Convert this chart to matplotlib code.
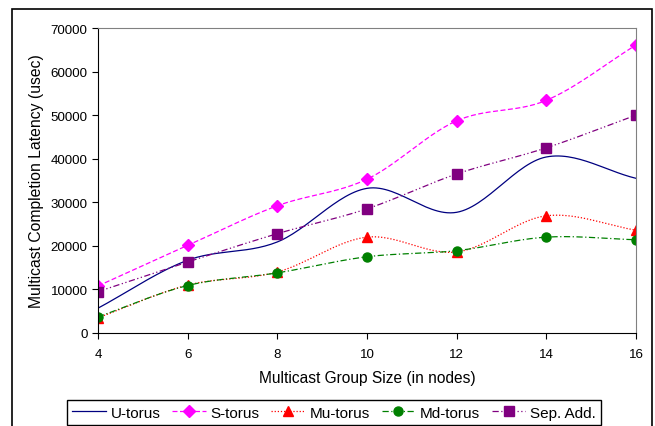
import numpy as np
import matplotlib
matplotlib.use("Agg")
import matplotlib.pyplot as plt
from matplotlib.patches import Rectangle

plt.rcParams["font.family"] = ["Liberation Sans", "DejaVu Sans"]

group_size = [4, 6, 8, 10, 12, 14, 16]
u_torus = [5700, 16700, 20900, 33200, 27700, 40400, 35500]
s_torus = [10800, 20100, 29200, 35300, 48700, 53400, 66100]
mu_torus = [3500, 11000, 14000, 22000, 18600, 26900, 23600]
md_torus = [3700, 10900, 13800, 17500, 18900, 22000, 21400]
sep_add = [9500, 16300, 22800, 28500, 36500, 42500, 50000]


def smooth(x, y, n=30):
    # catmull-rom curve through the points, like the spreadsheet "smoothed line"
    x = np.asarray(x, float)
    y = np.asarray(y, float)
    px = np.concatenate([[2 * x[0] - x[1]], x, [2 * x[-1] - x[-2]]])
    py = np.concatenate([[2 * y[0] - y[1]], y, [2 * y[-1] - y[-2]]])
    xs, ys = [], []
    t = np.linspace(0, 1, n)
    for i in range(1, len(px) - 2):
        for p, out in ((px, xs), (py, ys)):
            p0, p1, p2, p3 = p[i - 1], p[i], p[i + 1], p[i + 2]
            out.extend(0.5 * (2 * p1 + (-p0 + p2) * t
                              + (2 * p0 - 5 * p1 + 4 * p2 - p3) * t ** 2
                              + (-p0 + 3 * p1 - 3 * p2 + p3) * t ** 3))
    return xs, ys


fig = plt.figure(figsize=(6.55, 4.27), dpi=100)
fig.patches.append(Rectangle((12 / 655, -0.05), 640 / 655, 1 - 10 / 427 + 0.05,
                             transform=fig.transFigure, fill=False,
                             edgecolor="black", linewidth=1.2))
ax = fig.add_axes([98 / 655, 1 - 334 / 427, 538 / 655, 305 / 427])

series = [
    ("U-torus", u_torus, "#000080", "-", None),
    ("S-torus", s_torus, "#FF00FF", (0, (4, 2)), "D"),
    ("Mu-torus", mu_torus, "#FF0000", (0, (1, 1.5)), "^"),
    ("Md-torus", md_torus, "#008000", (0, (5, 2, 1, 2)), "o"),
    ("Sep. Add.", sep_add, "#800080", (0, (5, 2, 1, 2, 1, 2)), "s"),
]

for name, vals, col, ls, mk in series:
    sx, sy = smooth(group_size, vals)
    ax.plot(sx, sy, color=col, linestyle=ls, linewidth=0.9)
    ax.plot(group_size, vals, color=col, linestyle="none", marker=mk, markersize=6.5)
    ax.plot([], [], color=col, linestyle=ls, linewidth=0.9, marker=mk,
            markersize=6.5, label=name)

ax.set_xlim(4, 16)
ax.set_ylim(0, 70000)
ax.set_xticks([4, 6, 8, 10, 12, 14, 16])
ax.set_yticks(range(0, 70001, 10000))
ax.tick_params(direction="out", length=4, labelsize=9.6, colors="black")
ax.tick_params(axis="x", pad=7)
ax.spines["top"].set_color("#808080")
ax.spines["right"].set_color("#808080")
ax.set_xlabel("Multicast Group Size (in nodes)", fontsize=11.2, labelpad=7)
ax.set_ylabel("Multicast Completion Latency (usec)", fontsize=11.3, labelpad=5)

leg = fig.legend(loc="lower center", bbox_to_anchor=(334 / 655, 1 / 427),
                 ncol=5, fontsize=11, handlelength=2.2,
                 handletextpad=0.3, columnspacing=0.78, borderpad=0.35,
                 borderaxespad=0, fancybox=False, edgecolor="black", framealpha=1)
leg.get_frame().set_linewidth(1.0)

fig.savefig("out.png", dpi=100)
